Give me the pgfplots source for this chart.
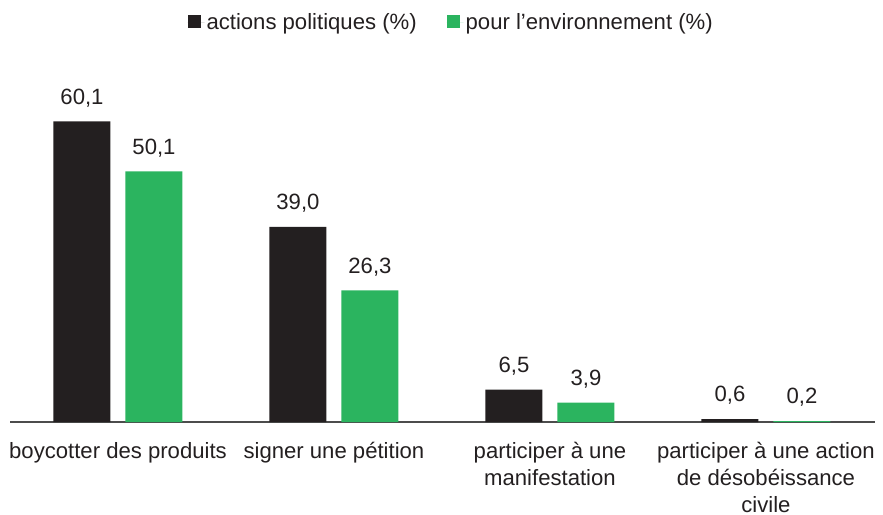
\documentclass[border=0pt]{standalone}
\usepackage{fontspec}
\setmainfont{Liberation Sans}
\usepackage{pgfplots}
\pgfplotsset{compat=1.18}
\definecolor{barblack}{HTML}{231F20}
\definecolor{bargreen}{HTML}{2BB45F}
\definecolor{txt}{HTML}{231F20}

\begin{document}
\begin{tikzpicture}[font=\fontsize{22.2}{27}\selectfont]
\useasboundingbox (-10bp,-93bp) rectangle (873bp,422bp);
\begin{axis}[
  at={(0,0)}, anchor=south west,
  width=865bp, height=348bp, scale only axis,
  xmin=-0.5, xmax=3.505, ymin=0, ymax=69.6,
  ybar=15bp, bar width=57bp,
  axis x line*=bottom, axis y line=none,
  x axis line style={draw=black!70, line width=1.5bp, -},
  xtick={0,1,2,3},
  xticklabels={boycotter des produits, signer une pétition,
    {participer à une\\manifestation},
    {participer à une action\\de désobéissance\\civile}},
  major tick length=0pt,
  xticklabel style={align=center, text=txt, anchor=north, inner sep=0pt,
    yshift=-20.5bp},
  /pgf/number format/assume math mode=true,
  /pgf/number format/use comma, /pgf/number format/fixed,
  /pgf/number format/fixed zerofill, /pgf/number format/precision=1,
  nodes near coords,
  nodes near coords style={text=txt, yshift=11bp},
  legend style={at={(0.51,1.149)}, anchor=center, draw=none, fill=none,
    text=txt, legend columns=2,
    /tikz/every even column/.append style={column sep=28bp}},
  legend image code/.code={\fill[#1, draw=none] (0bp,-6bp) rectangle (13bp,7bp);
    \path (0bp,0bp) -- (17bp,0bp);},
]
\addplot[fill=barblack, draw=none]
  coordinates {(0,60.1) (1,39.0) (2,6.5) (3,0.6)};
\addplot[fill=bargreen, draw=none]
  coordinates {(0,50.1) (1,26.3) (2,3.9) (3,0.2)};
\legend{actions politiques (\%), pour l’environnement (\%)}
\end{axis}
\end{tikzpicture}
\end{document}
